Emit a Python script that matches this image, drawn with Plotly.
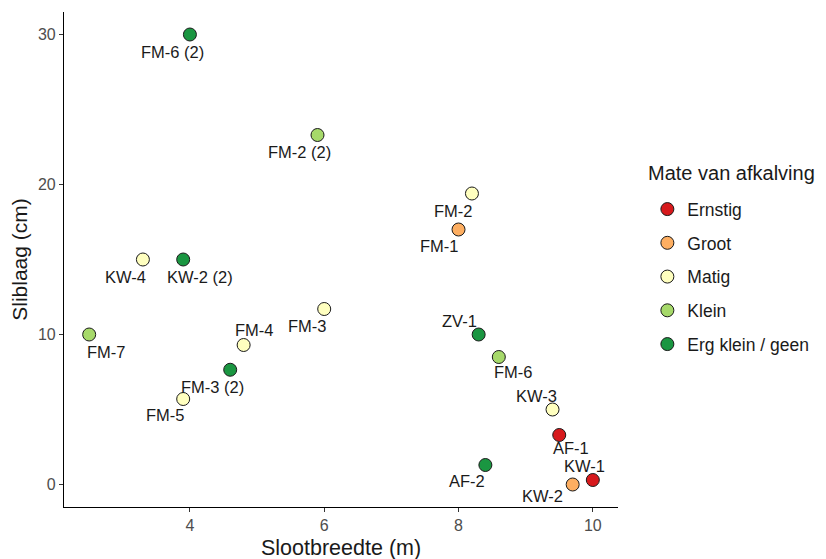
import plotly.graph_objects as go

# ---- data ----
categories = ["Ernstig", "Groot", "Matig", "Klein", "Erg klein / geen"]
cat_colors = ["#d7191c", "#fdae61", "#ffffbf", "#a6d96a", "#1a9641"]

names = ["FM-6 (2)", "FM-2 (2)", "FM-2", "FM-1", "KW-4", "KW-2 (2)", "FM-3", "FM-7",
         "FM-4", "FM-3 (2)", "FM-5", "ZV-1", "FM-6", "KW-3", "AF-1", "AF-2", "KW-1", "KW-2"]
slootbreedte = [4.0, 5.9, 8.2, 8.0, 3.3, 3.9, 6.0, 2.5,
                4.8, 4.6, 3.9, 8.3, 8.6, 9.4, 9.5, 8.4, 10.0, 9.7]
sliblaag = [30.0, 23.3, 19.4, 17.0, 15.0, 15.0, 11.7, 10.0,
            9.3, 7.65, 5.7, 10.0, 8.5, 5.0, 3.3, 1.3, 0.3, 0.0]
afkalving = ["Erg klein / geen", "Klein", "Matig", "Groot", "Matig", "Erg klein / geen", "Matig", "Klein",
             "Matig", "Erg klein / geen", "Matig", "Erg klein / geen", "Klein", "Matig", "Ernstig",
             "Erg klein / geen", "Ernstig", "Groot"]
legend_title = "Mate van afkalving"
x_title = "Slootbreedte (m)"
y_title = "Sliblaag (cm)"

# label offsets in pixels (styling, not data)
label_dx = [-17, -18, -18, -19, -17, 17, -17, 17, 11, -18, -18, -19, 15, -16, 12, -18, -8, -30]
label_dy = [17, 17, 17, 16, 17, 17, 17, 17, -15, 17, 16, -14, 15, -14, 13, 16, -14, 11]

FONT = "Liberation Sans, Arial, sans-serif"

fig = go.Figure()
for i, (cat, col) in enumerate(zip(categories, cat_colors)):
    xs = [x for x, c in zip(slootbreedte, afkalving) if c == cat]
    ys = [y for y, c in zip(sliblaag, afkalving) if c == cat]
    fig.add_trace(go.Scatter(
        x=xs, y=ys, mode="markers", name=cat, legendgroup=f"g{i}",
        marker=dict(size=13, color=col, line=dict(color="#1a1a1a", width=1)),
        hoverinfo="skip",
    ))

for n, x, y, dx, dy in zip(names, slootbreedte, sliblaag, label_dx, label_dy):
    fig.add_annotation(x=x, y=y, text=n, showarrow=False, xshift=dx, yshift=-dy,
                       font=dict(family=FONT, size=16.5, color="#1a1a1a"))

# legend title drawn as annotation for precise spacing
fig.add_annotation(x=1.051, y=0.675, xref="paper", yref="paper", xanchor="left", yanchor="middle",
                   text=legend_title, showarrow=False,
                   font=dict(family=FONT, size=20, color="#1a1a1a"))

# x-axis title as annotation
fig.add_annotation(x=0.5, y=0, xref="paper", yref="paper", xanchor="center", yanchor="middle",
                   yshift=-41, text=x_title, showarrow=False,
                   font=dict(family=FONT, size=21.5, color="#1a1a1a"))

fig.update_layout(
    width=810, height=551,
    margin=dict(l=56, r=196, t=4, b=52),
    plot_bgcolor="white", paper_bgcolor="white",
    font=dict(family=FONT),
    showlegend=True,
    legend=dict(
        font=dict(family=FONT, size=17.5, color="#1a1a1a"),
        x=1.053, xanchor="left", y=0.638, yanchor="top",
        tracegroupgap=8, bgcolor="rgba(0,0,0,0)",
    ),
    xaxis=dict(
        range=[2.125, 10.375], tickvals=[4, 6, 8, 10], showgrid=False, zeroline=False,
        showline=True, linecolor="black", linewidth=1.2, ticks="outside", ticklen=4,
        tickcolor="#333333", tickfont=dict(family=FONT, size=16, color="#4d4d4d"),
        automargin=False,
    ),
    yaxis=dict(
        range=[-1.5, 31.5], tickvals=[0, 10, 20, 30], showgrid=False, zeroline=False,
        showline=True, linecolor="black", linewidth=1.2, ticks="outside", ticklen=4,
        tickcolor="#333333", tickfont=dict(family=FONT, size=16, color="#4d4d4d"),
        automargin=False,
        title=dict(text=y_title, font=dict(family=FONT, size=21, color="#1a1a1a"), standoff=4),
    ),
)

fig.write_html("out.html")
